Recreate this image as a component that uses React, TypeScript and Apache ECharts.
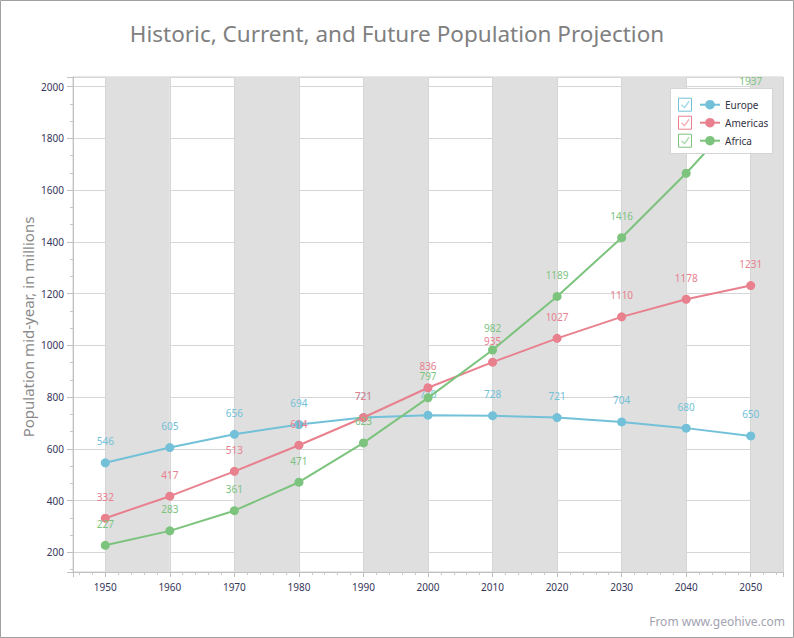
import React, { useEffect, useRef } from "react";
import * as echarts from "echarts";

const years = [1950, 1960, 1970, 1980, 1990, 2000, 2010, 2020, 2030, 2040, 2050];
const europe = [546, 605, 656, 694, 721, 730, 728, 721, 704, 680, 650];
const americas = [332, 417, 513, 614, 721, 836, 935, 1027, 1110, 1178, 1231];
const africa = [227, 283, 361, 471, 623, 797, 982, 1189, 1416, 1665, 1937];
const seriesNames = ["Europe", "Americas", "Africa"];
const seriesColors = ["#72c1d8", "#e8808e", "#7cc37d"];
const checkColors = ["#a9dbe9", "#f2b3bb", "#b0dcb0"];
// labels hidden behind the legend box in the reference: [seriesIndex, pointIndex]
const hiddenLabels = [[2, 9]];

const FONT = "Noto Sans";

export default function App() {
  const ref = useRef<HTMLDivElement>(null);
  useEffect(() => {
    const chart = echarts.init(ref.current!, null, { renderer: "svg" });
    const values = [europe, americas, africa];
    const rowY = [104.7, 122.7, 140.7];
    const graphics: any[] = [
      {
        type: "rect",
        shape: { x: 0.5, y: 0.5, width: 793, height: 637 },
        style: { fill: "none", stroke: "#a0a0a0", lineWidth: 1 },
        silent: true,
        z: 100,
      },
      {
        type: "text",
        x: 28,
        y: 327,
        rotation: Math.PI / 2,
        style: {
          text: "Population mid-year, in millions",
          font: `15px "${FONT}"`,
          fill: "#8a8a8a",
          textAlign: "center",
          textVerticalAlign: "middle",
        },
        z: 10,
      },
      {
        type: "text",
        x: 785,
        y: 621,
        style: {
          text: "From www.geohive.com",
          font: `12px "${FONT}"`,
          fill: "#a3a3b0",
          textAlign: "right",
          textVerticalAlign: "middle",
        },
        z: 10,
      },
      {
        type: "rect",
        shape: { x: 670.5, y: 88.5, width: 102, height: 65 },
        style: { fill: "#ffffff", stroke: "#d4d4d4", lineWidth: 1 },
        z: 50,
      },
    ];
    seriesNames.forEach((_, i) => {
      const cy = rowY[i];
      graphics.push({
        type: "rect",
        shape: { x: 678.5, y: cy - 6.5, width: 13, height: 13 },
        style: { fill: "#ffffff", stroke: seriesColors[i], lineWidth: 1 },
        z: 51,
      });
      graphics.push({
        type: "polyline",
        shape: {
          points: [
            [681.5, cy],
            [684.5, cy + 3],
            [689, cy - 3.5],
          ],
        },
        style: { fill: "none", stroke: checkColors[i], lineWidth: 1.5 },
        z: 52,
      });
    });

    const option: any = {
      animation: false,
      backgroundColor: "#ffffff",
      textStyle: { fontFamily: FONT },
      title: {
        text: "Historic, Current, and Future Population Projection",
        left: "center",
        top: 17,
        textStyle: {
          fontFamily: FONT,
          fontSize: 22.5,
          fontWeight: "normal",
          color: "#808080",
        },
      },
      legend: {
        orient: "vertical",
        left: 699,
        top: 98.7,
        padding: 0,
        itemWidth: 20,
        itemHeight: 12,
        itemGap: 6,
        z: 60,
        data: seriesNames,
        textStyle: { fontFamily: FONT, fontSize: 10, color: "#333344", lineHeight: 12 },
      },
      grid: {
        left: 73,
        right: 11,
        top: 77,
        bottom: 66,
        show: true,
        borderColor: "#d0d0d0",
        borderWidth: 1,
      },
      xAxis: {
        type: "value",
        min: 1945,
        max: 2055,
        splitNumber: 11,
        axisLine: { show: true, onZero: false, lineStyle: { color: "#c0c0c0" } },
        axisTick: { show: true, length: 5, lineStyle: { color: "#c0c0c0" } },
        minorTick: { show: true, splitNumber: 5, length: 3, lineStyle: { color: "#c8c8c8" } },
        axisLabel: {
          margin: 10,
          fontFamily: FONT,
          fontSize: 10,
          color: "#36365a",
          formatter: (v: number) => (v % 10 === 0 ? String(v) : ""),
        },
        splitLine: { show: true, lineStyle: { color: "#d6d6d6" } },
        splitArea: { show: true, areaStyle: { color: ["rgba(0,0,0,0)", "#dfdfdf"] } },
      },
      yAxis: {
        type: "value",
        min: 124,
        max: 2037,
        splitNumber: 10,
        axisLine: { show: true, lineStyle: { color: "#c0c0c0" } },
        axisTick: { show: true, length: 6, lineStyle: { color: "#c0c0c0" } },
        minorTick: { show: true, splitNumber: 3, length: 3, lineStyle: { color: "#c8c8c8" } },
        axisLabel: {
          margin: 9,
          fontFamily: FONT,
          fontSize: 10,
          color: "#36365a",
          formatter: (v: number) => (v % 200 === 0 ? String(v) : ""),
        },
        splitLine: { show: true, lineStyle: { color: "#d6d6d6" } },
      },
      graphic: graphics,
      series: seriesNames.map((name, i) => ({
        name,
        type: "line",
        data: years.map((y, j) => {
          const hide = hiddenLabels.some(([s, p]) => s === i && p === j);
          return hide
            ? { value: [y, values[i][j]], label: { show: false } }
            : [y, values[i][j]];
        }),
        symbol: "circle",
        symbolSize: 9,
        color: seriesColors[i],
        lineStyle: { width: 2, color: seriesColors[i] },
        itemStyle: { color: seriesColors[i] },
        label: {
          show: true,
          position: "top",
          distance: 12,
          fontFamily: FONT,
          fontSize: 10,
          color: seriesColors[i],
        },
        z: 2 + i,
      })),
    };
    chart.setOption(option);
    return () => chart.dispose();
  }, []);
  return (
    <div
      ref={ref}
      style={{ position: "fixed", left: 0, top: 0, width: 794, height: 638 }}
    />
  );
}
